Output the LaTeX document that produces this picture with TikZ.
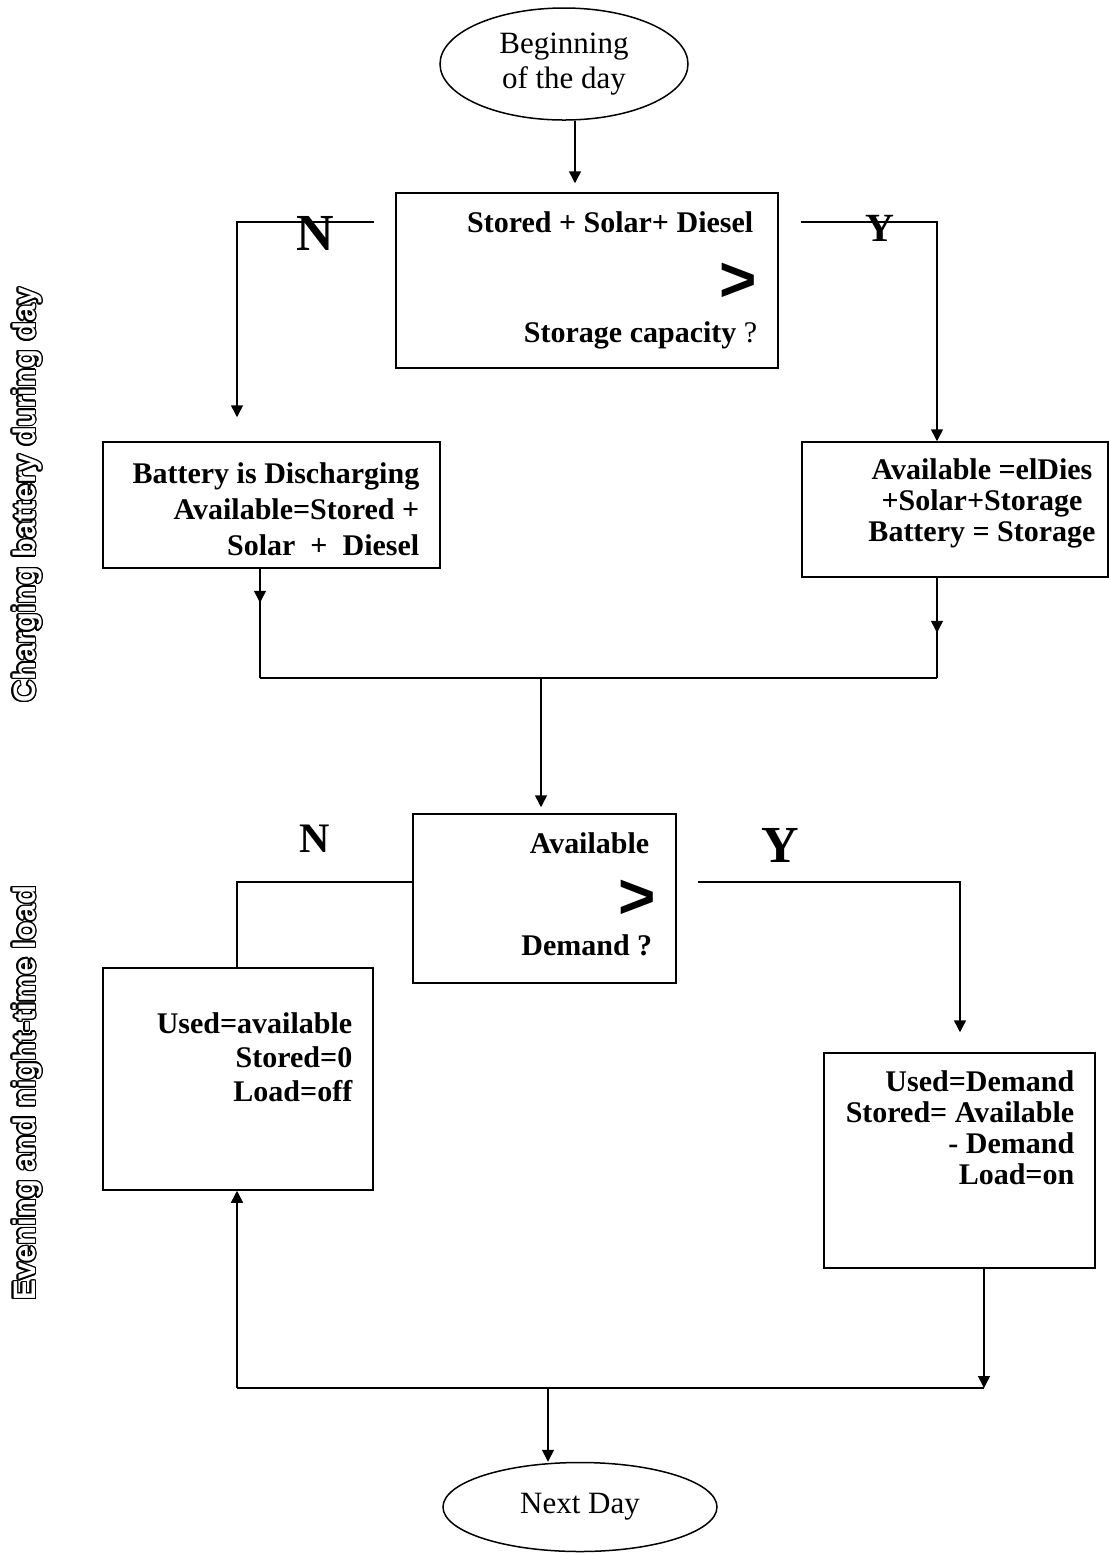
\documentclass[tikz,border=0pt]{standalone}
\usepackage{fontspec}
\setmainfont{Liberation Serif}
\newfontfamily\gtfont{Liberation Sans}
\newfontfamily\sidefont{Liberation Sans}
\usepackage{contour}
\contourlength{0.7pt}
\newcommand\hollow[1]{{\color{white}\contour{black}{#1}}}
\usetikzlibrary{
  arrows.meta,
  calc,
  positioning,
  shapes.geometric,
  decorations.markings,
}

\begin{document}
\begin{tikzpicture}[x=0.5pt, y=-0.5pt, line width=0.75pt,
  box/.style={draw, rectangle, inner sep=0pt},
  oval/.style={draw, ellipse, inner sep=0pt, align=center,
    font=\fontsize{15.5}{17.5}\selectfont},
  txt/.style={inner sep=0pt, align=right, font=\bfseries\fontsize{15}{18}\selectfont},
  gt/.style={inner sep=0pt, font=\gtfont\bfseries\fontsize{32}{32}\selectfont},
  yn/.style={inner sep=0pt, font=\bfseries\fontsize{#1}{#1}\selectfont},
  side/.style={inner sep=0pt, rotate=90, font=\sidefont\bfseries\fontsize{15.5}{15.5}\selectfont},
  flow/.style={-{Triangle[length=6pt,width=6pt]}},
  flowmid/.style={postaction={decorate}, decoration={markings,
    mark=at position #1 with {\arrow{Triangle[length=6pt,width=6pt]}}}},
]
\useasboundingbox (0,0) rectangle (1109,1555);

% side titles
\node[side] (daylbl) at (28,495) {\hollow{Charging battery during day}};
\node[side] (nightlbl) at (28,1093) {\hollow{Evening and night-time load}};

% start
\node[oval, minimum width=124pt, minimum height=56pt] (begin) at (564,64) {Beginning\\of the day};

% first test
\node[box, minimum width=191pt, minimum height=87.5pt] (check) at (587,280.5) {};
\node[txt, anchor=east] (checka) at (754,222) {Stored + Solar+ Diesel};
\node[gt, anchor=east] (checkb) at (758,282) {>};
\node[txt, anchor=east] (checkc) at (758,335) {Storage capacity \textmd{?}};
\draw[flow, shorten >=4.5pt] ($(begin.south)+(11,0)$) -- ($(begin.south |- check.north)+(11,0)$);

\node[yn=26] (no1) at (315,233) {N};
\node[yn=20] (yes1) at (880,228) {Y};

\node[box, minimum width=168.5pt, minimum height=63pt] (discharge) at (271.5,505) {};
\node[txt, anchor=east] (dischargetxt) at (420,509) {Battery is Discharging\\Available=Stored +\\Solar\ \ +\ \ Diesel};

\node[box, minimum width=153pt, minimum height=67.5pt] (storage) at (955,509.5) {};
\node[txt, align=center, font=\bfseries\fontsize{15}{15.5}\selectfont] (storagetxt) at (982,503)
  {Available =elDies\\+Solar+Storage\\Battery = Storage};

\coordinate (nl1) at (237,222);
\coordinate (yl1) at (937,222);
\draw[flow, shorten >=12pt] ($(check.west |- nl1)+(-21,0)$) -- (nl1) -- (nl1 |- discharge.north);
\draw[flow] ($(check.east |- yl1)+(22,0)$) -- (yl1) -- (yl1 |- storage.north);

% join
\coordinate (mergel) at (260,678);
\coordinate (merger) at (937,678);
\coordinate (mergec) at (541,678);
\draw[flowmid=17pt] (mergel |- discharge.south) -- (mergel);
\draw[flowmid=27.5pt] (merger |- storage.south) -- (merger);
\draw (mergel) -- (merger);

% second test
\node[box, minimum width=131.5pt, minimum height=84.5pt] (compare) at (544.5,898.5) {};
\node[txt, anchor=east] (comparea) at (650,843) {Available};
\node[gt, anchor=east] (compareb) at (657,899) {>};
\node[txt, anchor=east] (comparec) at (653,945) {Demand ?};
\draw[flow, shorten >=3pt] (mergec) -- (mergec |- compare.north);

\node[yn=21] (no2) at (315,839) {N};
\node[yn=26] (yes2) at (780,845) {Y};

\node[box, minimum width=135pt, minimum height=111pt] (usedav) at (238,1079) {};
\node[txt, anchor=north east, font=\bfseries\fontsize{15}{17}\selectfont] (usedavtxt) at (353,1012)
  {Used=available\\Stored=0\\Load=off};

\node[box, minimum width=135.5pt, minimum height=107.5pt] (usedem) at (959.5,1160.5) {};
\node[txt, anchor=north east, font=\bfseries\fontsize{15}{15.5}\selectfont] (usedemtxt) at (1075,1070)
  {Used=Demand\\Stored= Available\\- Demand\\Load=on};

\coordinate (nl2) at (237,882);
\coordinate (yl2) at (960,882);
\draw (compare.west |- nl2) -- (nl2) -- (nl2 |- usedav.north);
\draw[flow, shorten >=10pt] ($(compare.east |- yl2)+(21,0)$) -- (yl2) -- (yl2 |- usedem.north);

% back to the start
\node[oval, minimum width=137pt, minimum height=44.5pt] (nextday) at (580,1507) {Next Day};
\coordinate (loopl) at (237,1388);
\coordinate (loopr) at (984,1388);
\coordinate (loopc) at (548,1388);
\draw[flow] (loopr |- usedem.south) -- (loopr);
\draw (loopr) -- (loopl);
\draw[flow] (loopl) -- (loopl |- usedav.south);
\draw[flow] (loopc) -- (loopc |- nextday.north);
\end{tikzpicture}
\end{document}
